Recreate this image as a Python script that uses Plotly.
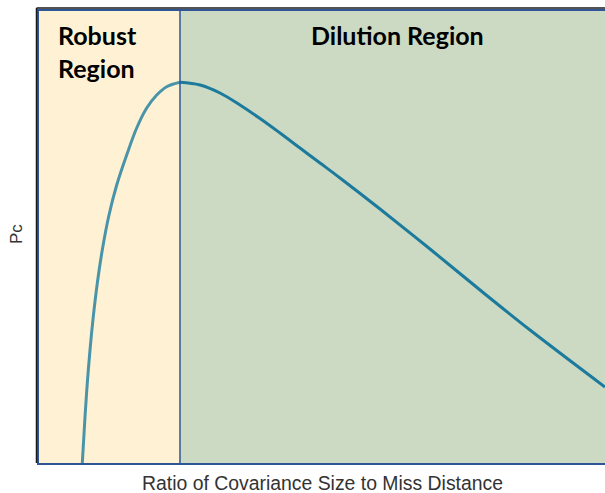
import plotly.graph_objects as go

# Curve (arbitrary units: x 0..10, Pc 0..10)
ratio = [0.765, 0.813, 0.853, 0.901, 0.959, 1.030, 1.118, 1.230, 1.373, 1.549,
         1.726, 1.903, 2.080, 2.256, 2.491, 2.845, 3.198, 3.551, 3.905,
         4.258, 4.611, 4.965, 5.318, 6.025, 6.908, 7.792, 8.675, 10.0]
pc = [0.0, 1.024, 1.763, 2.500, 3.237, 3.976, 4.712, 5.449, 6.150, 6.814,
      7.412, 7.854, 8.142, 8.325, 8.423, 8.363, 8.186, 7.920, 7.622,
      7.301, 6.969, 6.637, 6.305, 5.619, 4.735, 3.827, 2.942, 1.681]
boundary = 2.491
x_range = [0, 10]
y_range = [0, 10]
region_labels = ["Robust<br>Region", "Dilu\u200ction Region"]
x_title = "Ratio of Covariance Size to Miss Distance"
y_title = "Pc"

peak_i = pc.index(max(pc))

fig = go.Figure()
fig.add_trace(go.Scatter(x=ratio[:peak_i + 1], y=pc[:peak_i + 1], mode="lines",
                         line=dict(color="#4A94A9", width=3, shape="spline", smoothing=1),
                         showlegend=False, hoverinfo="skip"))
fig.add_trace(go.Scatter(x=ratio[peak_i:], y=pc[peak_i:], mode="lines",
                         line=dict(color="#1C7A9C", width=3, shape="spline", smoothing=1),
                         showlegend=False, hoverinfo="skip"))

shapes = [
    dict(type="rect", xref="x", yref="y", x0=x_range[0], x1=boundary, y0=y_range[0], y1=y_range[1],
         fillcolor="#FFF2D4", line=dict(width=0), layer="below"),
    dict(type="rect", xref="x", yref="y", x0=boundary, x1=x_range[1], y0=y_range[0], y1=y_range[1],
         fillcolor="#CCDAC3", line=dict(width=0), layer="below"),
    dict(type="line", xref="x", yref="y", x0=boundary, x1=boundary, y0=y_range[0], y1=y_range[1],
         line=dict(color="#2F5597", width=1.5), layer="above"),
    # outer black frame (top and left)
    dict(type="line", xref="paper", yref="paper", x0=-2.5 / 566, x1=1, y0=1 + 3 / 452, y1=1 + 3 / 452,
         line=dict(color="#1a1a1a", width=1.5)),
    dict(type="line", xref="paper", yref="paper", x0=-2.5 / 566, x1=-2.5 / 566, y0=0, y1=1 + 3 / 452,
         line=dict(color="#1a1a1a", width=1.5)),
]

annotations = [
    dict(text="<b>" + region_labels[0] + "</b>", xref="paper", yref="paper", x=0, xshift=17,
         y=1, yshift=-7, xanchor="left", yanchor="top", showarrow=False, align="left",
         font=dict(family="Lato", size=25, color="#000000")),
    dict(text="<b>" + region_labels[1] + "</b>", xref="x", yref="paper", x=6.325,
         y=1, yshift=-7, xanchor="center", yanchor="top", showarrow=False,
         font=dict(family="Lato", size=25, color="#000000")),
    dict(text=x_title, xref="paper", yref="paper", x=0.5, y=0, yshift=-20, xanchor="center",
         yanchor="middle", showarrow=False, font=dict(family="Liberation Sans", size=19.4, color="#333333")),
    dict(text=y_title, xref="paper", yref="paper", x=0, xshift=-23, y=0.5, yshift=3, xanchor="center",
         yanchor="middle", textangle=-90, showarrow=False,
         font=dict(family="Liberation Sans", size=17, color="#333333")),
]

fig.update_layout(
    width=605, height=493,
    margin=dict(l=39, r=0, t=11, b=30),
    paper_bgcolor="white", plot_bgcolor="white",
    shapes=shapes, annotations=annotations,
    xaxis=dict(range=x_range, showgrid=False, zeroline=False, showticklabels=False, ticks="",
               showline=True, linecolor="#2F5597", linewidth=2, mirror=True, fixedrange=True),
    yaxis=dict(range=y_range, showgrid=False, zeroline=False, showticklabels=False, ticks="",
               showline=True, linecolor="#2F5597", linewidth=1.5, mirror=False, fixedrange=True),
)

fig.write_html("out.html", config={"displayModeBar": False},
               post_script="document.body.style.margin='0px';")
